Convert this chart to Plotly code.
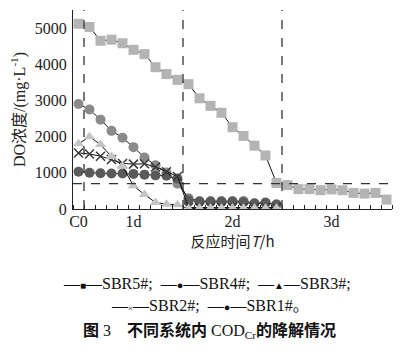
import plotly.graph_objects as go

# ---- data (index of sampling point along the time axis) ----
x_idx = list(range(29))
tick_pos = [0, 5, 14, 23]
tick_text = ["C0", "1d", "2d", "3d"]

sbr5 = [5120, 5030, 4650, 4680, 4580, 4400, 4280, 3920, 3730, 3570, 3450, 3060, 2850, 2660,
        2260, 2020, 1750, 1480, 720, 660, 550, 550, 520, 540, 520, 445, 425, 445, 260]
sbr4 = [2900, 2750, 2470, 2160, 1970, 1710, 1420, 1210, 1010, 700, 300, 220, 220, 220, 220,
        220, 160, 180, 130]
sbr3 = [1800, 2000, 1780, 1450, 1180, 640, 400, 180, 130, 120, 10, 20, 20, 20, 20, 20, 20, 20, 20]
sbr2 = [1550, 1520, 1460, 1370, 1260, 1240, 1250, 1160, 1030, 900, 40, 40, 40, 40, 40, 40, 40, 40, 40]
sbr1 = [1030, 1000, 990, 980, 980, 970, 950, 930, 920, 840, 240, 200, 200, 200, 200, 190, 150, 170, 120]

phase_lines = [0.5, 9.5, 18.5]
limit_line = 700

serif = "Liberation Serif, Times New Roman, serif"

fig = go.Figure()

def add(y, symbol, color, size):
    fig.add_trace(go.Scatter(
        x=x_idx[:len(y)], y=y, mode="lines+markers",
        line=dict(color="#111111", width=1),
        marker=dict(symbol=symbol, size=size, color=color,
                    line=dict(width=0 if "x" not in symbol else 1.5, color=color)),
        showlegend=False))

add(sbr5, "square", "#b4b4b4", 10)
add(sbr4, "circle", "#8a8a8a", 10)
add(sbr1, "circle", "#5a5a5a", 10)
add(sbr2, "x-thin", "#3a3a3a", 9)
add(sbr3, "triangle-up", "#c4c4c4", 10)

for xv in phase_lines:
    fig.add_shape(type="line", x0=xv, x1=xv, y0=0, y1=1, xref="x", yref="paper",
                  line=dict(color="#333333", width=1.3, dash="dash"))
fig.add_shape(type="line", x0=0, x1=1, y0=limit_line, y1=limit_line, xref="paper", yref="y",
              line=dict(color="#333333", width=1.3, dash="dash"))

# the page body has an 8px margin, so the figure is sized to fit the 414x362 window
fig.update_layout(
    width=406, height=354,
    margin=dict(l=65, r=22, t=2, b=153),
    paper_bgcolor="white", plot_bgcolor="white",
    font=dict(family=serif, size=15, color="#222222"),
    xaxis=dict(range=[-0.5, 28.5], tickmode="array", tickvals=tick_pos, ticktext=tick_text,
               ticks="", showline=True, linecolor="#222222", linewidth=1, showgrid=False,
               zeroline=False, tickfont=dict(family=serif, size=16), ticklabelstandoff=-2,
               minor=dict(ticks="inside", tick0=0.5, dtick=1, ticklen=4, tickcolor="#222222",
                          showgrid=False),
               title=dict(text="反应时间<i>T</i>/h", standoff=2,
                          font=dict(family="Noto Sans CJK SC, " + serif, size=15))),
    yaxis=dict(range=[0, 5500], tickvals=[0, 1000, 2000, 3000, 4000, 5000], ticks="",
               showline=True, linecolor="#222222", linewidth=1, showgrid=False, zeroline=False,
               tickfont=dict(family=serif, size=16), ticklabelstandoff=2,
               title=dict(text="DO浓度/(mg·L<sup>-1</sup>)", standoff=6,
                          font=dict(family=serif + ", Noto Sans CJK SC", size=16))),
)

leg1 = ("—<span style='font-size:10px'>■</span>—SBR5#;  —<span style='font-size:11px'>●</span>—SBR4#;  "
        "—<span style='font-size:10px'>▲</span>—SBR3#;")
leg2 = "—<span style='font-size:9px'>×</span>—SBR2#;  —<span style='font-size:11px'>●</span>—SBR1#。"
cap = "<b>图</b> 3　<b>不同系统内</b> COD<sub>Cr</sub><b>的降解情况</b>"

# annotation positions given in window pixels (center x, center y)
plot_left, plot_right, plot_bottom, plot_top = 73, 392, 209, 10
texts = [(leg1, 207, 283, 16), (leg2, 210, 305, 16), (cap, 209, 331, 16)]
for txt, px, py, fs in texts:
    fig.add_annotation(text=txt, showarrow=False, xref="paper", yref="paper",
                       x=(px - plot_left) / (plot_right - plot_left),
                       y=(plot_bottom - py) / (plot_bottom - plot_top),
                       xanchor="center", yanchor="middle",
                       font=dict(family=serif + ", Noto Sans CJK SC", size=fs, color="#111111"))

fig.write_html("out.html")
